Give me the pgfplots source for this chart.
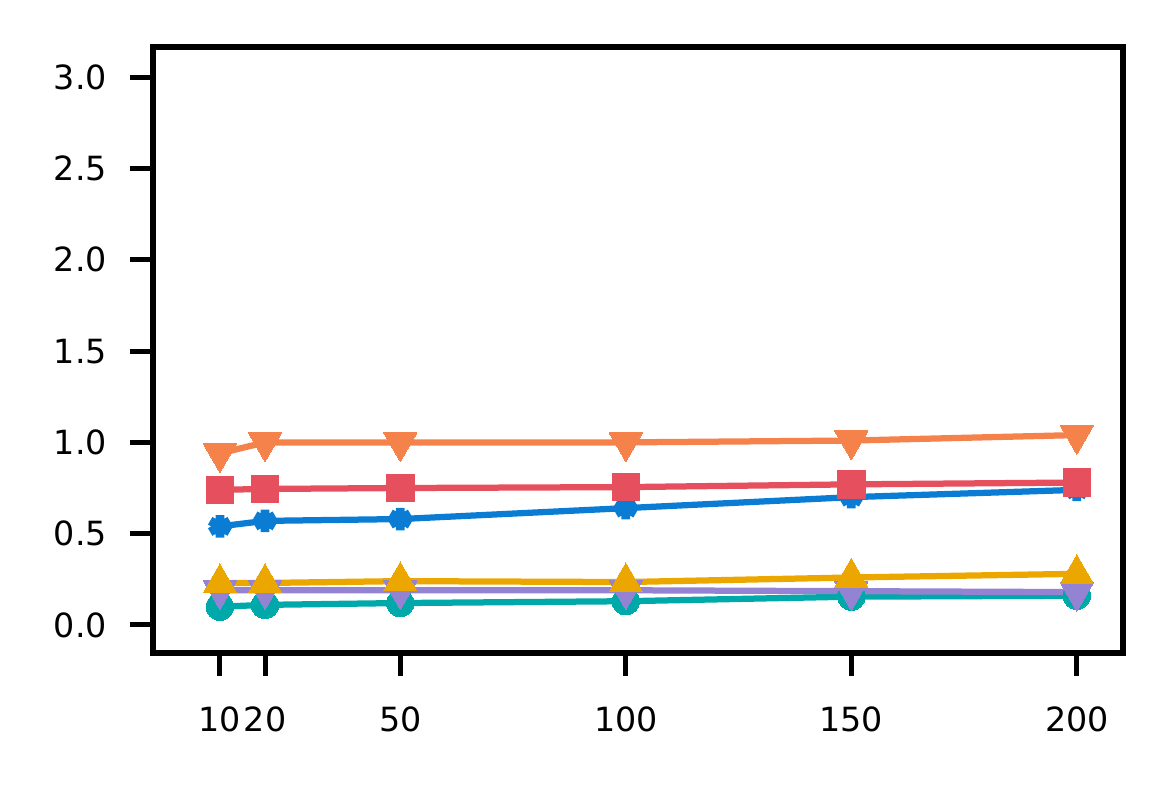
\documentclass[border=0pt]{standalone}
\usepackage{fontspec}
\setmainfont{DejaVu Sans}
\usepackage{pgfplots}
\pgfplotsset{compat=1.18}
\definecolor{cblue}{HTML}{0A7CD4}
\definecolor{cteal}{HTML}{00A9A9}
\definecolor{cpurple}{HTML}{9482D3}
\definecolor{cyellow}{HTML}{EBA700}
\definecolor{cred}{HTML}{E54F5E}
\definecolor{corange}{HTML}{F5814B}
\begin{document}
\begin{tikzpicture}
\path[use as bounding box] (-36.7pt,-31.9pt) rectangle (244.6pt,156.7pt);
\begin{axis}[
  scale only axis,
  width=232.8pt, height=145.4pt,
  at={(0,0)}, anchor=south west,
  xmin=-4.86, xmax=210.2,
  ymin=-0.153, ymax=3.165,
  xtick={10,20,50,100,150,200},
  ytick={0,0.5,1,1.5,2,2.5,3},
  yticklabel style={/pgf/number format/fixed,/pgf/number format/fixed zerofill,/pgf/number format/precision=1},
  /pgf/number format/assume math mode=true,
  tick label style={font=\fontsize{8}{9.6}\selectfont},
  xticklabel style={yshift=-4pt},
  yticklabel style={xshift=-2pt},
  tick align=outside,
  xtick pos=bottom, ytick pos=left,
  major tick length=5.5pt,
  every tick/.style={black, line width=1.2pt},
  axis line style={line width=1.4pt},
  clip=false,
  every axis plot/.append style={line width=1.5pt},
]
\addplot[color=cblue, mark=asterisk, mark size=2.7pt, mark options={line width=2.1pt}] coordinates {
(10,0.54) (20,0.57) (50,0.58) (100,0.64) (150,0.70) (200,0.74)};
\addplot[color=cteal, mark=*, mark size=3.3pt, mark options={draw=cteal, fill=cteal, line width=0pt}] coordinates {
(10,0.10) (20,0.11) (50,0.12) (100,0.13) (150,0.155) (200,0.16)};
\addplot[color=cpurple, mark=triangle*, mark size=4.6pt, mark options={rotate=180, draw=cpurple, fill=cpurple, line width=0pt}] coordinates {
(10,0.19) (20,0.19) (50,0.19) (100,0.19) (150,0.185) (200,0.18)};
\addplot[color=cyellow, mark=triangle*, mark size=4.6pt, mark options={draw=cyellow, fill=cyellow, line width=0pt}] coordinates {
(10,0.23) (20,0.23) (50,0.24) (100,0.235) (150,0.26) (200,0.28)};
\addplot[color=cred, mark=square*, mark size=3.3pt, mark options={draw=cred, fill=cred, line width=0pt}] coordinates {
(10,0.74) (20,0.745) (50,0.75) (100,0.755) (150,0.77) (200,0.78)};
\addplot[color=corange, mark=triangle*, mark size=4.6pt, mark options={rotate=180, draw=corange, fill=corange, line width=0pt}] coordinates {
(10,0.94) (20,1.0) (50,1.0) (100,1.0) (150,1.01) (200,1.04)};
\end{axis}
\end{tikzpicture}
\end{document}
